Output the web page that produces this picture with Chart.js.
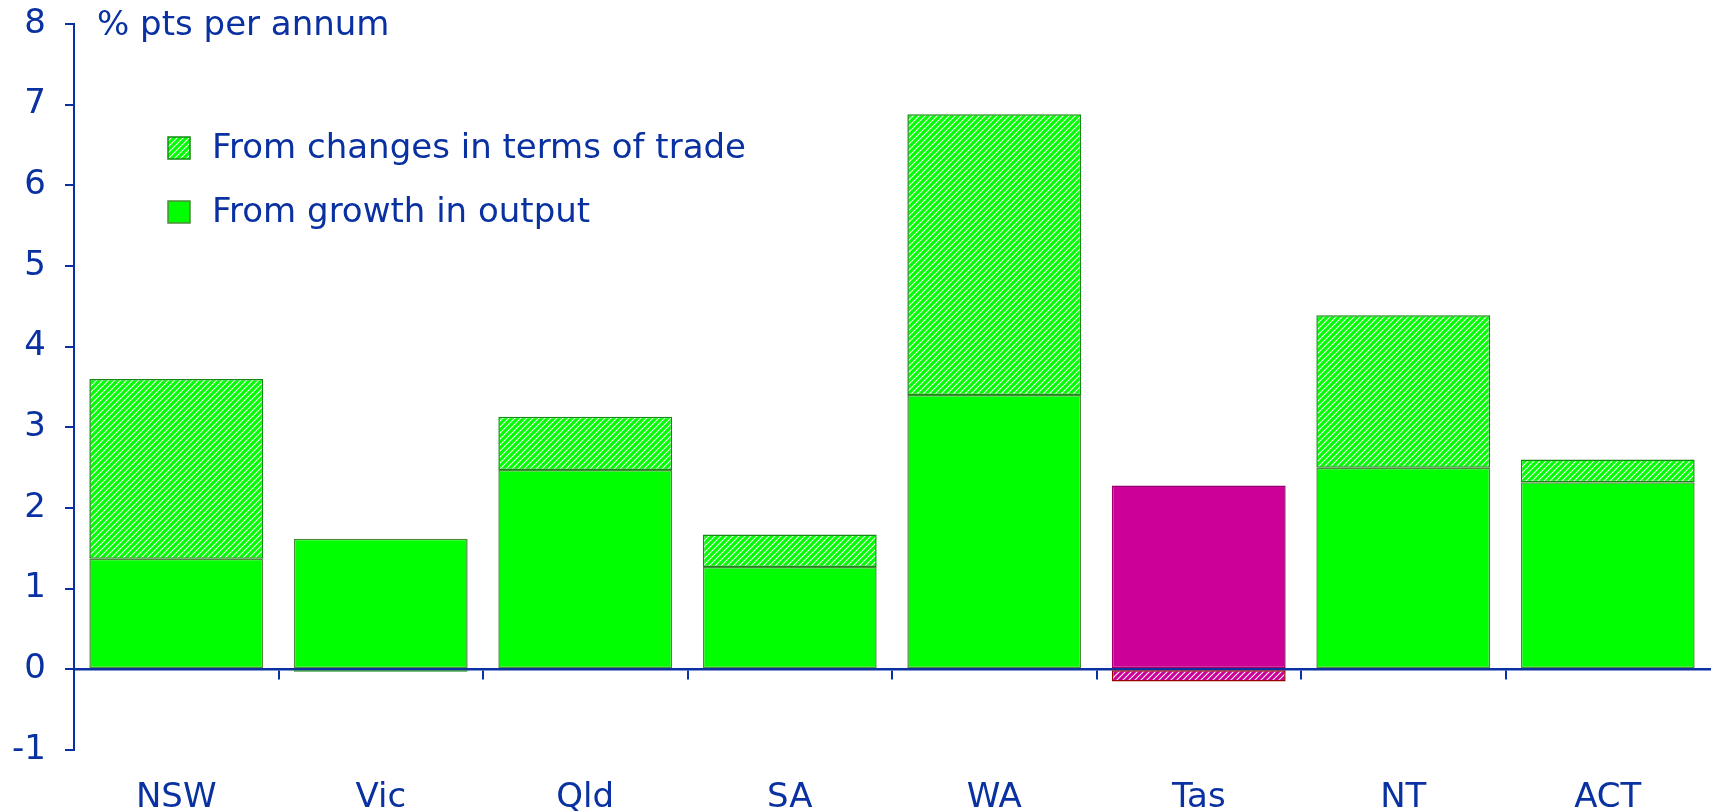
<!DOCTYPE html>
<html>
<head>
<meta charset="utf-8">
<script src="https://cdn.jsdelivr.net/npm/chart.js@4.4.0/dist/chart.umd.min.js"></script>
<style>
    body { margin: 0; background: #fff; }
    #wrap { width: 1719px; height: 812px; }
</style>
</head>
<body>
<div id="wrap"><canvas id="incomeChart"></canvas></div>
<script>
const states = ["NSW", "Vic", "Qld", "SA", "WA", "Tas", "NT", "ACT"];
const fromOutput = [1.37, 1.62, 2.47, 1.27, 3.40, 2.28, 2.50, 2.32];
const fromTermsOfTrade = [2.23, -0.03, 0.66, 0.40, 3.48, -0.15, 1.89, 0.28];
const yMin = -1, yMax = 8, yStep = 1;
const yTitle = "% pts per annum";
const labelOutput = "From growth in output";
const labelTot = "From changes in terms of trade";

const blue = "#0a31a1";
const green = "#00ff00";
const magenta = "#cc0099";
const fontName = "'DejaVu Sans', Verdana, sans-serif";
const fontSize = 34;

function hatch(colour) {
    const c = document.createElement("canvas");
    c.width = 6; c.height = 6;
    const g = c.getContext("2d");
    g.fillStyle = "#fff";
    g.fillRect(0, 0, 6, 6);
    g.strokeStyle = colour;
    g.lineWidth = 3.2;
    g.beginPath();
    g.moveTo(-1, 7); g.lineTo(7, -1);
    g.moveTo(-2, 2); g.lineTo(2, -2);
    g.moveTo(4, 8); g.lineTo(8, 4);
    g.stroke();
    return g.createPattern(c, "repeat");
}

const greenHatch = hatch(green);
const magentaHatch = hatch(magenta);

// Tas is shown in magenta, everything else green
const outputFill = states.map(s => s === "Tas" ? magenta : green);
const outputBorder = states.map(s => s === "Tas" ? "#99006e" : "#4f8a3c");
const totFill = states.map(s => s === "Tas" ? magentaHatch : greenHatch);
const totBorder = states.map(s => s === "Tas" ? "#990000" : "#138a13");

const extraText = {
    id: "extraText",
    afterDraw(chart) {
        const ctx = chart.ctx;
        const area = chart.chartArea;
        ctx.save();
        ctx.font = fontSize + "px " + fontName;
        ctx.fillStyle = blue;
        ctx.textBaseline = "middle";
        ctx.textAlign = "left";
        ctx.fillText(yTitle, area.left + 23, area.top + 2);

        // legend, terms of trade first
        const items = [
            {text: labelTot, fill: greenHatch, border: "#138a13"},
            {text: labelOutput, fill: green, border: "#4f8a3c"}
        ];
        items.forEach((it, i) => {
            const cy = 148 + i * 64;
            ctx.fillStyle = it.fill;
            ctx.fillRect(168, cy - 11, 22, 22);
            ctx.strokeStyle = it.border;
            ctx.lineWidth = 1.5;
            ctx.strokeRect(168, cy - 11, 22, 22);
            ctx.fillStyle = blue;
            ctx.fillText(it.text, 212, cy + 1);
        });
        ctx.restore();
    }
};

new Chart("incomeChart", {
    type: "bar",
    data: {
        labels: states,
        datasets: [{
            label: labelOutput,
            data: fromOutput,
            backgroundColor: outputFill,
            borderColor: outputBorder,
            borderWidth: 1.5,
            borderSkipped: false,
            barPercentage: 0.85,
            categoryPercentage: 1
        }, {
            label: labelTot,
            data: fromTermsOfTrade,
            backgroundColor: totFill,
            borderColor: totBorder,
            borderWidth: 1.5,
            borderSkipped: false,
            barPercentage: 0.85,
            categoryPercentage: 1
        }]
    },
    options: {
        responsive: true,
        maintainAspectRatio: false,
        animation: false,
        layout: {padding: {top: 24, right: 9, left: 0, bottom: 0}},
        plugins: {
            legend: {display: false},
            tooltip: {enabled: false}
        },
        scales: {
            x: {
                stacked: true,
                grid: {display: false},
                border: {display: false},
                ticks: {color: blue, font: {family: fontName, size: fontSize}, padding: 20},
                afterFit: function(scale) { scale.height = 62; }
            },
            x2: {
                type: "category",
                labels: states,
                position: {y: 0},
                offset: true,
                grid: {
                    offset: true,
                    drawOnChartArea: false,
                    drawTicks: true,
                    tickLength: 9,
                    lineWidth: 2,
                    color: ctx => ctx.tick ? blue : "rgba(0,0,0,0)"
                },
                border: {display: true, color: blue, width: 2.5},
                ticks: {display: false}
            },
            y: {
                stacked: true,
                min: yMin,
                max: yMax,
                grid: {
                    drawOnChartArea: false,
                    drawTicks: true,
                    tickLength: 9,
                    lineWidth: 2,
                    color: blue
                },
                border: {display: true, color: blue, width: 2},
                ticks: {
                    stepSize: yStep,
                    color: blue,
                    padding: 19,
                    font: {family: fontName, size: fontSize}
                },
                afterFit: function(scale) {
                    scale.width = 74;
                    scale.paddingTop = 0;
                    scale.paddingBottom = 0;
                }
            }
        }
    },
    plugins: [extraText]
});
</script>
</body>
</html>
